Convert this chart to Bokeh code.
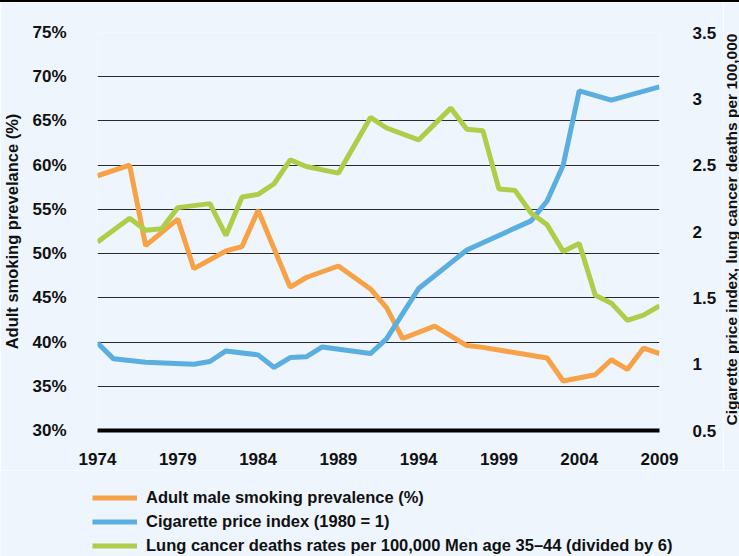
import math
from bokeh.plotting import figure
from bokeh.models import Range1d, LinearAxis, FixedTicker, Legend, LegendItem, Div, Label
from bokeh.layouts import column, row
from bokeh.embed import file_html
from bokeh.resources import INLINE

# ---------------- data ----------------
smoking_years = [1974, 1976, 1977, 1979, 1980, 1982, 1983, 1984, 1986, 1987, 1989,
                 1991, 1992, 1993, 1995, 1997, 1998, 2002, 2003, 2005, 2006, 2007, 2008, 2009]
smoking_prevalence = [58.8, 60.0, 50.9, 53.9, 48.3, 50.3, 50.8, 54.9, 46.2, 47.3, 48.6,
                      46.0, 43.9, 40.4, 41.8, 39.6, 39.4, 38.2, 35.6, 36.3, 38.0, 36.9, 39.3, 38.7]

price_years = [1974, 1975, 1977, 1980, 1981, 1982, 1984, 1985, 1986, 1987, 1988,
               1991, 1992, 1994, 1997, 2001, 2002, 2003, 2004, 2006, 2009]
price_index = [1.16, 1.04, 1.015, 1.00, 1.02, 1.10, 1.07, 0.975, 1.05, 1.055, 1.13,
               1.08, 1.19, 1.57, 1.86, 2.08, 2.23, 2.50, 3.06, 2.99, 3.09]

cancer_years = [1974, 1976, 1977, 1978, 1979, 1981, 1982, 1983, 1984, 1985, 1986, 1987,
                1989, 1991, 1992, 1994, 1996, 1997, 1998, 1999, 2000, 2001, 2002, 2003,
                2004, 2005, 2006, 2007, 2008, 2009]
cancer_rate = [1.92, 2.10, 2.01, 2.02, 2.18, 2.21, 1.97, 2.26, 2.28, 2.36, 2.54, 2.49,
               2.44, 2.86, 2.78, 2.69, 2.93, 2.77, 2.76, 2.32, 2.31, 2.14, 2.05, 1.85,
               1.91, 1.52, 1.46, 1.33, 1.37, 1.44]

x_ticks = [1974, 1979, 1984, 1989, 1994, 1999, 2004, 2009]
left_ticks = [30, 35, 40, 45, 50, 55, 60, 65, 70, 75]
left_tick_labels = ["30%", "35%", "40%", "45%", "50%", "55%", "60%", "65%", "70%", "75%"]
right_ticks = [0.5, 1.0, 1.5, 2.0, 2.5, 3.0, 3.5]
right_tick_labels = ["0.5", "1", "1.5", "2", "2.5", "3", "3.5"]

left_title = "Adult smoking prevelance (%)"
right_title = "Cigarette price index, lung cancer deaths per 100,000"
series_labels = ["Adult male smoking prevalence (%)",
                 "Cigarette price index (1980 = 1)",
                 "Lung cancer deaths rates per 100,000 Men age 35\u201344 (divided by 6)"]

# ---------------- styling ----------------
BG = "#EEF5FD"
FONT = "Liberation Sans"
TXT = "#111111"
ORANGE = "#F7A247"
BLUE = "#5BAEE0"
GREEN = "#AECD48"


def bare(fig):
    fig.xgrid.visible = False
    fig.ygrid.visible = False
    return fig


p = figure(width=723, height=468,
           min_border_left=97, min_border_right=64,
           min_border_top=30, min_border_bottom=40,
           x_range=Range1d(1974, 2009), y_range=Range1d(30, 75),
           output_backend="svg", toolbar_location=None,
           background_fill_color=BG, border_fill_color=BG,
           outline_line_color=None)
p.extra_y_ranges = {"right": Range1d(0.5, 3.5)}

# grid
p.xgrid.grid_line_color = None
p.ygrid.ticker = FixedTicker(ticks=left_ticks[1:])
p.ygrid.grid_line_color = "#2a2a2a"
p.ygrid.grid_line_width = 1.2

# x axis
xa = p.xaxis[0]
xa.ticker = FixedTicker(ticks=x_ticks)
xa.axis_line_color = "black"
xa.axis_line_width = 4
xa.major_tick_line_color = None
xa.minor_tick_line_color = None
xa.major_label_text_font = FONT
xa.major_label_text_font_style = "bold"
xa.major_label_text_font_size = "17px"
xa.major_label_text_color = TXT
xa.major_label_standoff = 16

# left axis
ya = p.yaxis[0]
ya.ticker = FixedTicker(ticks=left_ticks)
ya.major_label_overrides = {t: l for t, l in zip(left_ticks, left_tick_labels)}
ya.axis_line_color = None
ya.major_tick_line_color = None
ya.minor_tick_line_color = None
ya.major_label_text_font = FONT
ya.major_label_text_font_style = "bold"
ya.major_label_text_font_size = "17px"
ya.major_label_text_color = TXT
ya.major_label_standoff = 25
ya.axis_label = left_title
ya.axis_label_text_font = FONT
ya.axis_label_text_font_style = "bold"
ya.axis_label_text_font_size = "16.5px"
ya.axis_label_text_color = TXT
ya.axis_label_standoff = 8

# right axis (ticks only; its title is drawn beside it)
ra = LinearAxis(y_range_name="right", ticker=FixedTicker(ticks=right_ticks))
ra.major_label_overrides = {t: l for t, l in zip(right_ticks, right_tick_labels)}
ra.axis_line_color = None
ra.major_tick_line_color = None
ra.minor_tick_line_color = None
ra.major_label_text_font = FONT
ra.major_label_text_font_style = "bold"
ra.major_label_text_font_size = "17px"
ra.major_label_text_color = TXT
ra.major_label_standoff = 27
p.add_layout(ra, "right")

# lines
r1 = p.line(smoking_years, smoking_prevalence, line_color=ORANGE, line_width=5)
r2 = p.line(price_years, price_index, line_color=BLUE, line_width=5, y_range_name="right")
r3 = p.line(cancer_years, cancer_rate, line_color=GREEN, line_width=5, y_range_name="right")

# ---------------- right axis title (reads bottom to top) ----------------
tf = bare(figure(width=16, height=468, min_border=0,
                 x_range=Range1d(0, 1), y_range=Range1d(0, 1),
                 x_axis_type=None, y_axis_type=None,
                 output_backend="svg", toolbar_location=None,
                 background_fill_color=BG, border_fill_color=BG,
                 outline_line_color=None))
tf.add_layout(Label(x=0.5, y=0.505, text=right_title, angle=math.pi / 2,
                    text_align="center", text_baseline="middle",
                    text_font=FONT, text_font_style="bold",
                    text_font_size="15.5px", text_color=TXT))

# ---------------- legend strip below the chart ----------------
lg = bare(figure(width=739, height=86, min_border=0,
                 x_range=Range1d(0, 1), y_range=Range1d(0, 1),
                 x_axis_type=None, y_axis_type=None,
                 output_backend="svg", toolbar_location=None,
                 background_fill_color=BG, border_fill_color=BG,
                 outline_line_color=None))
# same series, outside this strip's visible range: only their legend swatches show
k1 = lg.line(smoking_years, smoking_prevalence, line_color=ORANGE, line_width=5)
k2 = lg.line(price_years, price_index, line_color=BLUE, line_width=5)
k3 = lg.line(cancer_years, cancer_rate, line_color=GREEN, line_width=5)

legend = Legend(items=[LegendItem(label=series_labels[0], renderers=[k1]),
                       LegendItem(label=series_labels[1], renderers=[k2]),
                       LegendItem(label=series_labels[2], renderers=[k3])],
                location=(92, 0), orientation="vertical",
                glyph_width=45, glyph_height=21, label_height=21, label_standoff=9,
                spacing=3, padding=0, margin=0,
                border_line_alpha=0, background_fill_alpha=0,
                label_text_font=FONT, label_text_font_style="bold",
                label_text_font_size="16.5px", label_text_color=TXT)
lg.add_layout(legend, "center")

top_bar = Div(width=739, height=2, styles={"background-color": "black"}, margin=0)
layout = column(top_bar, row(p, tf, spacing=0), lg, spacing=0)

open("out.html", "w").write(file_html(layout, INLINE))
